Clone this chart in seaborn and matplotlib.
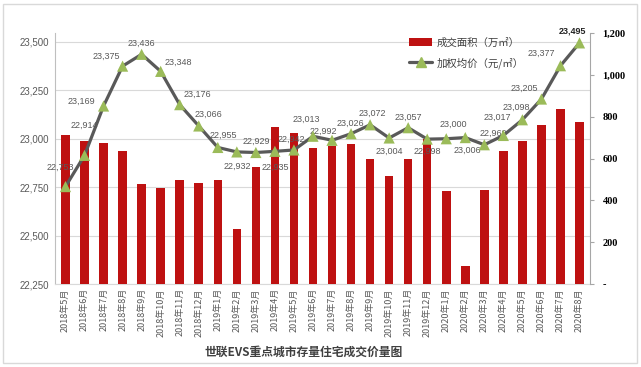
import numpy as np
import matplotlib.pyplot as plt
import seaborn as sns
from matplotlib.patches import Patch, Rectangle
from matplotlib.lines import Line2D
from matplotlib.ticker import FuncFormatter

months = ["2018年5月", "2018年6月", "2018年7月", "2018年8月", "2018年9月", "2018年10月",
          "2018年11月", "2018年12月", "2019年1月", "2019年2月", "2019年3月", "2019年4月",
          "2019年5月", "2019年6月", "2019年7月", "2019年8月", "2019年9月", "2019年10月",
          "2019年11月", "2019年12月", "2020年1月", "2020年2月", "2020年3月", "2020年4月",
          "2020年5月", "2020年6月", "2020年7月", "2020年8月"]

# 成交面积（万㎡）- right axis
area = [712, 684, 674, 634, 477, 457, 497, 481, 496, 264, 561, 750,
        723, 652, 661, 668, 597, 516, 597, 692, 446, 86, 451, 636,
        683, 760, 837, 774]

# 加权均价（元/㎡）- left axis
price = [22753, 22914, 23169, 23375, 23436, 23348, 23176, 23066, 22955, 22932,
         22929, 22935, 22942, 23013, 22992, 23026, 23072, 23004, 23057, 22998,
         23000, 23006, 22969, 23017, 23098, 23205, 23377, 23495]

# label offsets in pixels (dx, dy)
lab_dx = [-5, 0, -22, -16, 0, 18, 18, 10, 6, 0, 0, 0, -3, -7,
          -9, -1, 2, 0, 0, 0, 7, 2, 9, -6, -6, -17, -19, -7]
lab_dy = [19, 30, 5, 10, 11, 9, 10, 12, 12, -14, 11, -16, 11, 17,
          9, 10, 11, -13, 10, -12, 14, -13, 11, 18, 12, 11, 12, 12]

sns.set_style("white")
plt.rcParams['font.family'] = ['Liberation Sans', 'Noto Sans CJK SC', 'DejaVu Sans']

bar_color = "#BE1111"
line_color = "#595959"
marker_color = "#9BBB59"
grid_color = "#D9D9D9"
text_gray = "#595959"

fig = plt.figure(figsize=(6.41, 3.67), dpi=100)
rect = [55 / 641, 1 - 284 / 367, 535 / 641, 251 / 367]

# base axis: left scale + gridlines
ax = fig.add_axes(rect)
ax.set_ylim(22250, 23546)
ax.set_yticks([22250, 22500, 22750, 23000, 23250, 23500])
ax.yaxis.set_major_formatter(FuncFormatter(lambda v, p: f"{int(v):,}"))
ax.grid(axis="y", color=grid_color, linewidth=0.8)
ax.set_axisbelow(True)

# bars on the right scale
ax_bar = ax.twinx()
sns.barplot(x=months, y=area, ax=ax_bar, color=bar_color, width=0.45,
            saturation=1, edgecolor="none")
ax_bar.set_ylim(0, 1200)
ax_bar.set_yticks(range(0, 1201, 200))
ax_bar.yaxis.set_major_formatter(
    FuncFormatter(lambda v, p: "-" if v == 0 else f"{int(v):,}"))

# line on top
ax_line = ax.twinx()
ax_line.set_ylim(ax.get_ylim())
pos = np.arange(len(months))
sns.lineplot(x=pos, y=price, ax=ax_line, color=line_color, linewidth=2.3)
sns.scatterplot(x=pos, y=price, ax=ax_line, marker="^", s=65,
                color=marker_color, edgecolor="none", zorder=5)
ax_line.set_yticks([])
ax_line.set_ylabel("")

for i, v in enumerate(price):
    last = i == len(price) - 1
    ax_line.annotate(f"{v:,}", (pos[i], v), xytext=(lab_dx[i], lab_dy[i]),
                     textcoords="offset pixels", ha="center", va="center",
                     fontsize=6.5, color="#222222" if last else text_gray,
                     fontweight="bold" if last else "normal")

ax.set_xlim(-0.55, len(months) - 0.45)
ax.set_xticks(pos)
ax.set_xticklabels(months, rotation=90, fontsize=6.5, color=text_gray,
                   family=["Noto Sans CJK SC"])
ax.tick_params(axis="x", length=0, pad=3)
ax.tick_params(axis="y", length=0, labelsize=7, labelcolor=text_gray, pad=4)
for lab in ax_bar.get_yticklabels():
    lab.set_family(["Liberation Serif"])
    lab.set_fontweight("bold")
ax_bar.tick_params(axis="y", length=3, color="#A6A6A6", labelsize=7.5,
                   labelcolor="black", pad=6)

for a in (ax, ax_bar, ax_line):
    for s in a.spines.values():
        s.set_visible(False)
    a.set_xlabel("")
    a.set_ylabel("")
ax.spines["left"].set_visible(True)
ax.spines["left"].set_color("#BFBFBF")
ax.spines["bottom"].set_visible(True)
ax.spines["bottom"].set_color("#D9D9D9")
ax_bar.spines["right"].set_visible(True)
ax_bar.spines["right"].set_color("#A6A6A6")

ax.set_zorder(0)
ax_bar.set_zorder(1)
ax_line.set_zorder(2)
ax_bar.patch.set_visible(False)
ax_line.patch.set_visible(False)

handles = [Patch(facecolor=bar_color, edgecolor="none"),
           Line2D([], [], color=line_color, linewidth=2.3, marker="^",
                  markersize=7, markerfacecolor=marker_color,
                  markeredgecolor=marker_color)]
leg = ax_line.legend(handles, ["成交面积（万㎡）", "加权均价（元/㎡）"],
                     loc="upper left", bbox_to_anchor=(0.645, 1.02),
                     frameon=False, fontsize=7.5, labelspacing=0.9,
                     handlelength=2.2, handletextpad=0.4,
                     prop={"family": ["Noto Sans CJK SC"], "size": 7.5})
for t in leg.get_texts():
    t.set_color("#404040")

fig.text(304 / 641, 1 - 352 / 367, "世联EVS重点城市存量住宅成交价量图",
         ha="center", va="center", fontsize=8.5, fontweight="bold",
         color="#404040", family=["Noto Sans CJK SC"])

fig.patches.append(Rectangle((0.004, 0.012), 0.99, 0.976,
                             transform=fig.transFigure, fill=False,
                             edgecolor="#D9D9D9", linewidth=1))

fig.savefig("out.png", dpi=100)
